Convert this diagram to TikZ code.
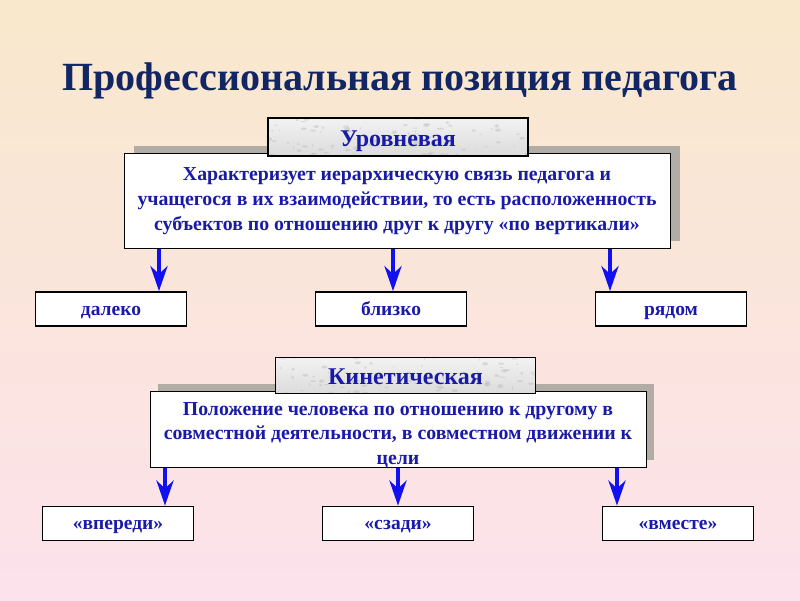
\documentclass[tikz,border=0pt]{standalone}
\usepackage{fontspec}
\setmainfont{Liberation Serif}
\usetikzlibrary{arrows.meta,positioning,calc}

\definecolor{bgtop}{RGB}{250,232,204}
\definecolor{bgbot}{RGB}{251,226,236}
\definecolor{navy}{RGB}{18,38,100}
\definecolor{txtblue}{RGB}{26,26,168}
\definecolor{arrblue}{RGB}{16,16,240}
\definecolor{shadowgray}{RGB}{178,172,166}

\tikzset{
  headbox/.style={draw=black,line width=1.6pt,inner sep=0pt,
    top color=gray!10,bottom color=gray!28,text=txtblue,font=\bfseries\fontsize{24}{26}\selectfont,
    text height=20pt,text depth=2pt,
    path picture={
      \foreach \i in {1,...,90}
        \fill[gray!70,opacity=0.3]
          ($(path picture bounding box.south west)+(262*rnd,-40*rnd)$)
          ellipse[x radius=3*rnd+0.6,y radius=1.6*rnd+0.4];
    }},
  mainbox/.style={draw=black,line width=1pt,fill=white,inner sep=0pt,align=center,
    text=txtblue,font=\bfseries\fontsize{19.8}{25}\selectfont},
  leafbox/.style={draw=black,line width=1.8pt,fill=white,inner sep=0pt,
    minimum width=151pt,minimum height=34pt,text=txtblue,font=\bfseries\fontsize{19.5}{22}\selectfont,
    text height=15pt,text depth=3pt},
  arr/.style={arrblue,line width=4.5pt,-{Stealth[length=25pt,width=17pt,inset=8pt]}},
}

\begin{document}
\begin{tikzpicture}[x=1pt,y=-1pt]
  \pgfmathsetseed{11}
  % ====== background ======
  \shade[top color=bgtop,bottom color=bgbot] (0,0) rectangle (800,600);
  \useasboundingbox (0,0) rectangle (800,600);

  \node[text=navy,font=\bfseries\fontsize{40}{44}\selectfont] (title) at (400,81)
    {Профессиональная позиция педагога};

  % ====== first block ======
  \fill[shadowgray] (134,146) rectangle (680,241);
  \node[mainbox,minimum width=546pt,minimum height=95pt] (m1) at (397,201)
    {Характеризует иерархическую связь педагога и\\
     учащегося в их взаимодействии, то есть расположенность\\
     субъектов по отношению друг к другу «по вертикали»};
  \node[headbox,minimum width=260pt,minimum height=38pt] (h1) at (398,137) {Уровневая};

  \node[leafbox] (l1) at (111,309) {далеко};
  \node[leafbox] (l2) at (391,309) {близко};
  \node[leafbox] (l3) at (671,309) {рядом};

  \coordinate (a1) at ([xshift=48pt]l1.north);
  \coordinate (a2) at ([xshift=2pt]l2.north);
  \coordinate (a3) at ([xshift=-61pt]l3.north);
  \foreach \a in {a1,a2,a3}
    \draw[arr] (m1.south -| \a) -- (\a);

  % ====== second block ======
  \fill[shadowgray] (158,384) rectangle (654,460);
  \node[mainbox,minimum width=496pt,minimum height=76pt,
    font=\bfseries\fontsize{19.8}{24.5}\selectfont] (m2) at (398,429.5)
    {\rule{0pt}{24pt}Положение человека по отношению к другому в\\
     совместной деятельности, в совместном движении к\\
     цели};
  \node[headbox,minimum width=260pt,minimum height=36pt] (h2) at (405.5,375.5) {Кинетическая};

  \node[leafbox] (k1) at (118,523.5) {«впереди»};
  \node[leafbox] (k2) at (398,523.5) {«сзади»};
  \node[leafbox] (k3) at (678,523.5) {«вместе»};

  \coordinate (b1) at ([xshift=47pt]k1.north);
  \coordinate (b2) at (k2.north);
  \coordinate (b3) at ([xshift=-61pt]k3.north);
  \foreach \b in {b1,b2,b3}
    \draw[arr] (m2.south -| \b) -- (\b);
\end{tikzpicture}
\end{document}
